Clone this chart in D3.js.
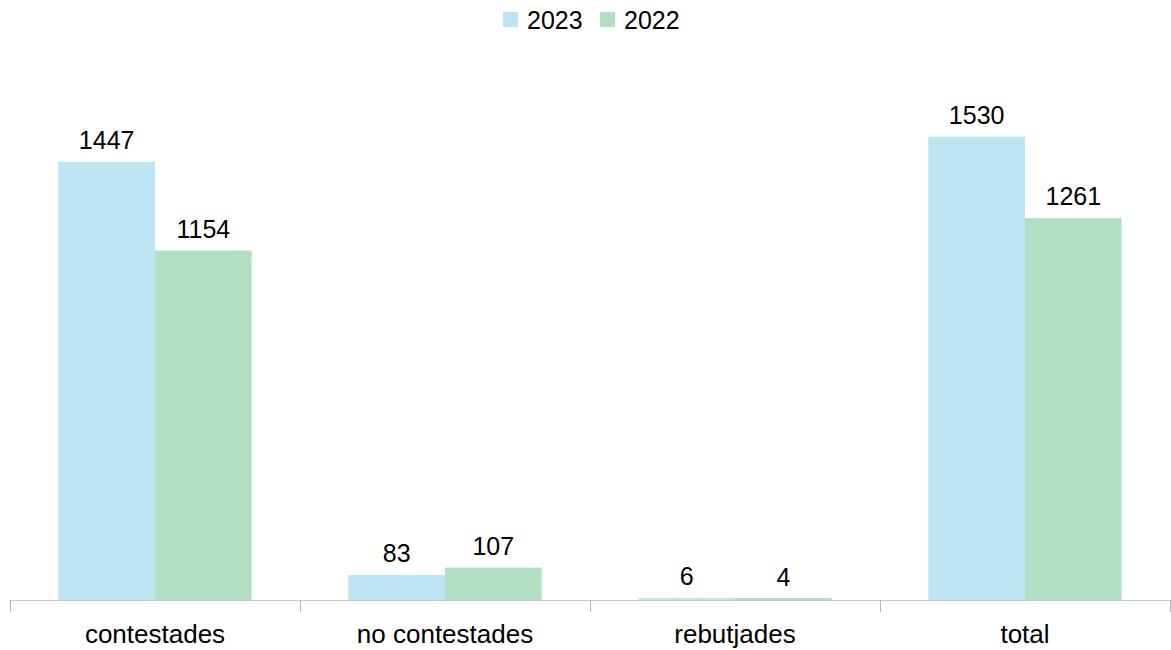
<!DOCTYPE html>
<html>
<head>
<meta charset="utf-8">
<script src="https://cdn.jsdelivr.net/npm/d3@7"></script>
<style>
  html, body { margin: 0; padding: 0; background: #ffffff; }
  svg { display: block; font-family: "Liberation Sans", Arial, sans-serif; }
</style>
</head>
<body>
<svg id="chart" width="1171" height="650"></svg>
<script>
// Categories and series values
const categories = ["contestades", "no contestades", "rebutjades", "total"];
const seriesNames = ["2023", "2022"];
const values2023 = [1447, 83, 6, 1530];
const values2022 = [1154, 107, 4, 1261];
const seriesColors = ["#bde4f1", "#b2dfc3"];

const series = [values2023, values2022];

const svg = d3.select("#chart");
const left = 10, right = 1170, baseline = 600;

const x = d3.scaleBand().domain(categories).range([left, right]).paddingInner(0).paddingOuter(0);
const inner = d3.scaleBand().domain(seriesNames).range([0, x.bandwidth()]).paddingInner(0).paddingOuter(0.5);
const y = d3.scaleLinear().domain([0, 1800]).range([baseline, baseline - 1800 * 0.3028]);

// bars with value labels
categories.forEach((cat, ci) => {
  seriesNames.forEach((s, si) => {
    const v = series[si][ci];
    const g = svg.append("g");
    const bx = x(cat) + inner(s);
    const bh = Math.max(baseline - y(v), 2);
    g.append("rect")
      .attr("x", bx)
      .attr("y", baseline - bh)
      .attr("width", inner.bandwidth())
      .attr("height", bh)
      .attr("fill", seriesColors[si]);
    g.append("text")
      .attr("x", bx + inner.bandwidth() / 2)
      .attr("y", y(v) - 13)
      .attr("text-anchor", "middle")
      .attr("font-size", 25)
      .attr("fill", "#000")
      .text(v);
  });
});

// category axis
const ax = svg.append("g").attr("transform", `translate(0,${baseline})`);
ax.append("line").attr("x1", left).attr("x2", right).attr("y1", 0.5).attr("y2", 0.5)
  .attr("stroke", "#c8c8c8").attr("stroke-width", 1);
const tickPositions = categories.map(c => x(c)).concat([right]);
ax.selectAll("line.tick").data(tickPositions).enter().append("line")
  .attr("class", "tick")
  .attr("x1", d => Math.round(d) + 0.5).attr("x2", d => Math.round(d) + 0.5)
  .attr("y1", 0).attr("y2", 12)
  .attr("stroke", "#b4b4b4");
ax.selectAll("text.cat").data(categories).enter().append("text")
  .attr("class", "cat")
  .attr("x", d => x(d) + x.bandwidth() / 2)
  .attr("y", 43)
  .attr("text-anchor", "middle")
  .attr("font-size", 26)
  .attr("fill", "#000")
  .text(d => d);

// legend
const legend = svg.append("g");
const legendX = [503, 600];
seriesNames.forEach((s, i) => {
  legend.append("rect").attr("x", legendX[i]).attr("y", 12).attr("width", 15).attr("height", 15)
    .attr("fill", seriesColors[i]);
  legend.append("text").attr("x", legendX[i] + 24).attr("y", 28.5)
    .attr("font-size", 25).attr("fill", "#000").text(s);
});
</script>
</body>
</html>
